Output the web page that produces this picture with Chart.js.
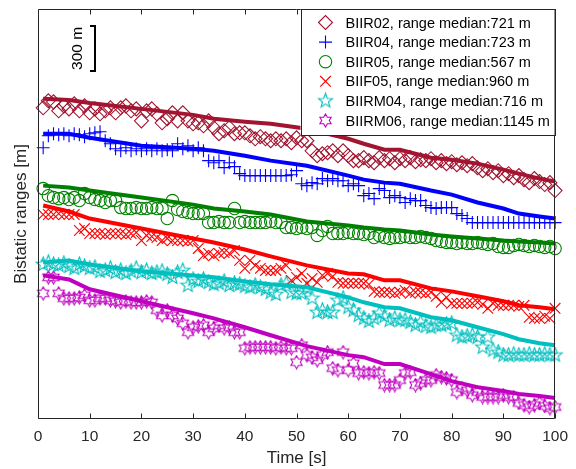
<!DOCTYPE html>
<html>
<head>
<meta charset="utf-8">
<script src="https://cdn.jsdelivr.net/npm/chart.js@4.4.0/dist/chart.umd.min.js"></script>
<style>
  html, body { margin: 0; padding: 0; background: #fff; }
</style>
</head>
<body>
<canvas id="chart" width="576" height="469"></canvas>
<script>
// time stamps of the measured points [s]
const TIME = [1,2,3,4,5,6,7,8,9,10,11,12,13,14,15,16,17,18,19,20,
  21,22,23,24,25,26,27,28,29,30,31,32,33,34,35,36,37,38,39,40,
  41,42,43,44,45,46,47,48,49,50,51,52,53,54,55,56,57,58,59,60,
  61,62,63,64,65,66,67,68,69,70,71,72,73,74,75,76,77,78,79,80,
  81,82,83,84,85,86,87,88,89,90,91,92,93,94,95,96,97,98,99,100];

// measured bistatic ranges [m] (offset per satellite, only relative scale matters)
const R02 = [2080,2127,2120,2060,2093,2073,2107,2060,2093,2047,
  2073,2040,2060,2080,2047,2080,2093,2060,2073,1993,
  2060,2073,2040,1980,2007,2047,1993,2047,1993,1973,
  1980,1960,1993,1947,1907,1927,1947,1907,1913,1913,
  1893,1873,1887,1873,1860,1873,1860,1873,1847,1880,
  1860,1860,1793,1760,1773,1780,1793,1760,1793,1760,
  1727,1727,1747,1727,1713,1747,1727,1740,1713,1740,
  1727,1747,1720,1733,1727,1740,1713,1727,1707,1720,
  1700,1713,1693,1707,1680,1660,1673,1647,1660,1627,
  1640,1613,1627,1600,1580,1607,1587,1567,1580,1527];
const R04 = [1813,1893,1907,1900,1907,1893,1907,1900,1887,1907,
  1913,1920,1860,1840,1807,1793,1813,1793,1807,1793,
  1807,1793,1807,1793,1800,1793,1840,1807,1827,1793,
  1813,1793,1727,1713,1727,1680,1713,1687,1640,1627,
  1627,1627,1627,1627,1627,1627,1627,1627,1633,1660,
  1573,1560,1580,1573,1607,1593,1607,1593,1593,1560,
  1573,1560,1493,1507,1473,1540,1527,1480,1493,1480,
  1447,1473,1460,1460,1427,1413,1407,1413,1413,1413,
  1373,1360,1340,1313,1313,1313,1313,1313,1313,1313,
  1313,1313,1313,1313,1313,1313,1313,1313,1313,1313];
const R05 = [1540,1493,1480,1473,1480,1467,1480,1460,1507,1480,
  1467,1460,1447,1460,1460,1413,1407,1407,1413,1407,
  1407,1413,1407,1407,1340,1460,1400,1387,1380,1373,
  1373,1373,1313,1313,1320,1313,1313,1407,1313,1320,
  1313,1313,1313,1313,1320,1313,1313,1280,1280,1273,
  1280,1273,1280,1227,1260,1287,1240,1240,1240,1247,
  1240,1240,1233,1240,1213,1227,1213,1207,1213,1213,
  1220,1213,1213,1220,1213,1207,1193,1187,1180,1180,
  1173,1180,1173,1173,1180,1173,1167,1173,1153,1147,
  1147,1160,1167,1160,1153,1160,1153,1147,1153,1140];
const F05 = [1367,1367,1367,1373,1367,1367,1367,1260,1273,1240,
  1240,1240,1233,1240,1240,1240,1233,1240,1247,1193,
  1227,1220,1213,1193,1207,1193,1193,1193,1187,1193,
  1140,1093,1107,1093,1107,1113,1107,1127,1060,1007,
  1060,1027,1007,993,993,993,1007,1027,927,947,
  973,907,940,913,960,973,953,913,907,907,
  907,907,907,900,853,847,847,847,840,847,
  860,840,847,847,840,847,820,780,813,773,
  773,773,773,773,780,767,740,773,760,760,
  760,760,753,760,680,673,673,687,673,740];
const RM04 = [1033,1047,1033,1027,1040,1020,1007,1033,1020,1007,
  1013,987,993,1007,980,993,973,987,1007,980,
  993,973,980,987,967,947,980,993,893,933,
  920,933,913,900,907,920,893,907,900,887,
  880,893,880,867,847,833,893,907,847,840,
  840,873,807,713,727,713,713,793,807,747,
  727,693,673,653,673,707,687,660,673,660,
  660,647,627,647,620,613,627,627,633,640,
  560,547,553,560,547,480,547,460,447,427,
  427,433,427,427,433,427,427,433,427,427];
const RM06 = [840,947,947,840,807,807,807,813,827,793,
  793,807,807,793,787,780,787,780,780,780,
  787,780,727,693,727,693,673,640,580,613,
  620,627,580,607,627,607,613,580,580,473,
  480,480,480,480,480,473,480,473,473,380,
  493,427,413,393,427,447,340,327,447,327,
  373,307,313,307,313,307,227,227,227,260,
  307,313,227,240,260,260,293,280,273,260,
  180,207,193,160,180,147,147,147,147,160,
  147,147,107,93,80,93,107,87,73,80];

// modelled ranges, sampled at these times [s]
const FIT_T = [1,6,10,20,30,34,40,45,52,60,63,67,70,76,80,85,90,93,97,100];
const R02_FIT = [2140,2133,2113,2073,2033,2007,1987,1973,1940,1873,1840,1800,1800,1747,1733,1707,1667,1640,1607,1587];
const R04_FIT = [1907,1907,1880,1827,1807,1793,1760,1727,1693,1627,1600,1580,1573,1527,1500,1447,1407,1373,1353,1340];
const R05_FIT = [1560,1547,1527,1480,1433,1407,1387,1367,1320,1293,1280,1267,1260,1233,1220,1207,1193,1187,1180,1173];
const F05_FIT = [1427,1387,1340,1273,1207,1180,1133,1087,1027,973,967,927,927,873,853,820,787,760,747,733];
const RM04_FIT = [1047,1060,1033,987,960,947,920,900,880,813,780,747,740,680,660,613,567,533,507,493];
const RM06_FIT = [960,933,867,787,707,673,613,560,487,427,413,367,367,300,253,213,187,167,153,140];

const LABELS = [
  'BIIR02, range median:721 m',
  'BIIR04, range median:723 m',
  'BIIR05, range median:567 m',
  'BIIF05, range median:960 m',
  'BIIRM04, range median:716 m',
  'BIIRM06, range median:1145 m',
];
const X_TICKS = [0, 10, 20, 30, 40, 50, 60, 70, 80, 90, 100];
const SCALE_BAR = { x: 11.1, top: 2627, len: 300, label: '300 m' };

const COLORS = ['#A2142F', '#0000FF', '#008000', '#FF0000', '#00BFBF', '#BF00BF'];
const AXIS = '#262626';
const FONT = "'Liberation Sans', Arial, sans-serif";

// outlined star markers (pentagram / hexagram) as small canvases
function starMarker(points, inner, size, color) {
  const c = document.createElement('canvas');
  c.width = c.height = size;
  const g = c.getContext('2d');
  const R = size / 2 - 1, r = R * inner;
  g.beginPath();
  for (let i = 0; i < points * 2; i++) {
    const a = -Math.PI / 2 + i * Math.PI / points;
    const d = i % 2 ? r : R;
    g.lineTo(size / 2 + d * Math.cos(a), size / 2 + d * Math.sin(a));
  }
  g.closePath();
  g.strokeStyle = color;
  g.lineWidth = 1.1;
  g.stroke();
  return c;
}

const MARKERS = [
  { style: 'rectRot', radius: 7 },
  { style: 'cross', radius: 6.5 },
  { style: 'circle', radius: 6.2 },
  { style: 'crossRot', radius: 7.5 },
  { style: starMarker(5, 0.42, 17, COLORS[4]), radius: 8 },
  { style: starMarker(6, 0.577, 15, COLORS[5]), radius: 7 },
];

const SERIES = [R02, R04, R05, F05, RM04, RM06];
const FITS = [R02_FIT, R04_FIT, R05_FIT, F05_FIT, RM04_FIT, RM06_FIT];

const datasets = [];
SERIES.forEach((vals, i) => {
  datasets.push({
    label: LABELS[i],
    data: TIME.map((t, k) => ({ x: t, y: vals[k] })),
    showLine: false,
    pointStyle: MARKERS[i].style,
    pointRadius: MARKERS[i].radius,
    pointBorderColor: COLORS[i],
    pointBackgroundColor: 'rgba(0,0,0,0)',
    pointBorderWidth: 1.1,
    clip: false,
    order: 2,
  });
});
FITS.forEach((vals, i) => {
  datasets.push({
    label: LABELS[i] + ' (model)',
    data: FIT_T.map((t, k) => ({ x: t, y: vals[k] })),
    borderColor: COLORS[i],
    borderWidth: 4,
    pointRadius: 0,
    tension: 0,
    clip: false,
    order: 1,
  });
});

const frame = {
  id: 'frame',
  afterDraw(chart) {
    const { ctx, chartArea: a, scales: { x, y } } = chart;
    ctx.save();

    // axes box with inward ticks
    ctx.strokeStyle = AXIS;
    ctx.lineWidth = 1;
    const L = Math.round(a.left) + 0.5, R = Math.round(a.right) - 0.5;
    const T = Math.round(a.top) + 0.5, B = Math.round(a.bottom) - 0.5;
    ctx.beginPath();
    ctx.rect(L, T, R - L, B - T);
    X_TICKS.forEach(v => {
      const px = Math.round(x.getPixelForValue(v)) + 0.5;
      ctx.moveTo(px, B); ctx.lineTo(px, B - 5);
      ctx.moveTo(px, T); ctx.lineTo(px, T + 5);
    });
    ctx.stroke();

    // scale bar
    const bx = Math.round(x.getPixelForValue(SCALE_BAR.x));
    const y1 = y.getPixelForValue(SCALE_BAR.top);
    const y2 = y.getPixelForValue(SCALE_BAR.top - SCALE_BAR.len);
    ctx.strokeStyle = '#000';
    ctx.lineWidth = 2;
    ctx.beginPath();
    ctx.moveTo(bx - 5, y1); ctx.lineTo(bx, y1); ctx.lineTo(bx, y2); ctx.lineTo(bx - 5, y2);
    ctx.stroke();
    ctx.save();
    ctx.translate(bx - 17, (y1 + y2) / 2);
    ctx.rotate(-Math.PI / 2);
    ctx.fillStyle = '#000';
    ctx.font = '15.5px ' + FONT;
    ctx.textAlign = 'center';
    ctx.textBaseline = 'middle';
    ctx.fillText(SCALE_BAR.label, 0, 0);
    ctx.restore();

    // legend box
    const w = 254, h = 126;
    const lx = R - w, ly = T;
    ctx.fillStyle = '#fff';
    ctx.fillRect(lx, ly, w, h);
    ctx.strokeStyle = AXIS;
    ctx.lineWidth = 1;
    ctx.strokeRect(Math.round(lx) + 0.5, ly, w, h);
    ctx.font = '14.5px ' + FONT;
    ctx.textAlign = 'left';
    ctx.textBaseline = 'middle';
    LABELS.forEach((lab, i) => {
      const cy = ly + 13 + i * 19.6;
      ctx.strokeStyle = COLORS[i];
      ctx.fillStyle = 'rgba(0,0,0,0)';
      ctx.lineWidth = 1.1;
      Chart.helpers.drawPoint(ctx, {
        pointStyle: MARKERS[i].style, radius: MARKERS[i].radius, rotation: 0, borderWidth: 1.1,
      }, lx + 25, cy);
      ctx.fillStyle = '#000';
      ctx.fillText(lab, lx + 45, cy + 1);
    });
    ctx.restore();
  },
};

new Chart(document.getElementById('chart'), {
  type: 'line',
  data: { datasets },
  plugins: [frame],
  options: {
    responsive: false,
    animation: false,
    events: [],
    layout: { padding: { top: 8, right: 18, left: 0, bottom: 0 } },
    plugins: { legend: { display: false }, tooltip: { enabled: false } },
    scales: {
      x: {
        type: 'linear',
        min: 0, max: 100,
        afterBuildTicks: s => { s.ticks = X_TICKS.map(v => ({ value: v })); },
        afterFit: s => { s.height = 50; },
        grid: { display: false, drawTicks: false },
        border: { display: false },
        ticks: { color: AXIS, padding: 8, maxRotation: 0, font: { family: FONT, size: 15.5 } },
        title: {
          display: true, text: 'Time [s]', color: AXIS,
          padding: { top: 0, bottom: 0 },
          font: { family: FONT, size: 17 },
        },
      },
      y: {
        type: 'linear',
        min: 0, max: 2740,
        afterFit: s => { s.width = 38; },
        grid: { display: false, drawTicks: false },
        border: { display: false },
        ticks: { display: false },
        title: {
          display: true, text: 'Bistatic ranges [m]', color: AXIS,
          padding: { top: 11, bottom: 0 },
          font: { family: FONT, size: 17 },
        },
      },
    },
  },
});
</script>
</body>
</html>
